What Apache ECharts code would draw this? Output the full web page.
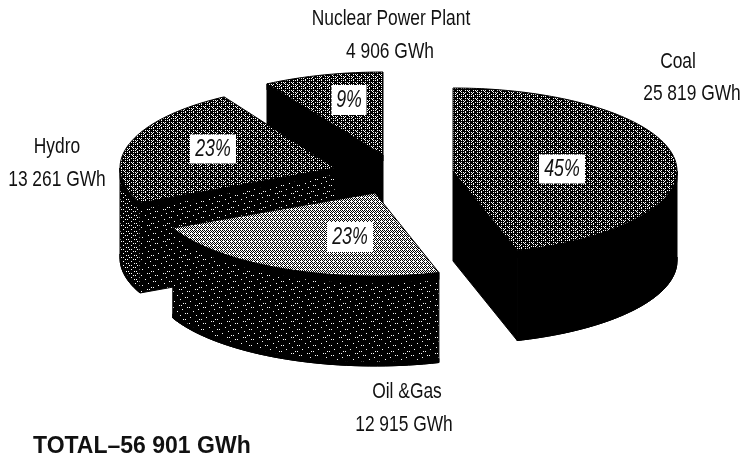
<!DOCTYPE html>
<html>
<head>
    <meta charset="UTF-8">
    <title>Electricity generation by source</title>
    <style type="text/css">
        html, body { margin: 0; padding: 0; background: #fff; }
        #mychart { width: 747px; height: 462px; }
    </style>
    <script type="text/javascript" src="https://cdn.jsdelivr.net/npm/echarts@6/dist/echarts.min.js"></script>
</head>
<body>
<div id="mychart"></div>
<script type="text/javascript">
    // values
    var names = ['Coal', 'Oil &Gas', 'Hydro', 'Nuclear Power Plant'];
    var gwh = [25819, 12915, 13261, 4906];
    var gwhLabels = ['25 819 GWh', '12 915 GWh', '13 261 GWh', '4 906 GWh'];
    var percentLabels = ['45%', '23%', '23%', '9%'];
    var totalLabel = 'TOTAL\u201356 901 GWh';

    // back to front
    var drawOrder = [3, 0, 2, 1];

    // each exploded slice sits on its own ellipse: cx, cy, rx, ry
    var ellipses = [[453, 171, 224, 83], [375, 193, 223, 83], [335, 168, 215, 83], [383, 155, 225, 83]];
    var depth = 90;
    var namePos = [[678, 62], [407, 392], [57, 147], [391, 19]];
    var gwhPos = [[692, 94], [404, 425], [57, 180], [390, 52]];
    var percentPos = [[562, 169], [350, 237], [213, 149], [349, 100]];
    var percentBox = [[46, 29], [46, 30], [46, 29], [35, 30]];

    // halftone tiles, # is black
    function tile(rows) {
        var c = document.createElement('canvas');
        c.width = rows[0].length;
        c.height = rows.length;
        var ctx = c.getContext('2d');
        ctx.fillStyle = '#fff';
        ctx.fillRect(0, 0, c.width, c.height);
        ctx.fillStyle = '#000';
        rows.forEach(function (row, y) {
            row.split('').forEach(function (ch, x) {
                if (ch === '#') ctx.fillRect(x, y, 1, 1);
            });
        });
        return {image: c, repeat: 'repeat'};
    }
    var darkTop = tile([
        '#.###.#.',
        '########',
        '#.#.#.##',
        '####.###',
        '#.###.#.',
        '.#######',
        '###.#.#.',
        '#.######'
    ]);
    var lightTop = tile([
        '#.#.#.#.',
        '.#...#..',
        '#.#.#.#.',
        '.#.#.#.#',
        '#.#.#.#.',
        '...#...#',
        '#.#.#.#.',
        '.#.#.#.#'
    ]);
    var dotted = tile([
        '################',
        '###.#.##########',
        '################',
        '###########.#.##',
        '################',
        '######.#########',
        '################',
        '#.##############',
        '################',
        '#########.#.####',
        '################',
        '####.###########',
        '################',
        '##############.#',
        '################',
        '#######.#.######'
    ]);
    var dottedDense = tile([
        '########',
        '#.#.####',
        '########',
        '#####.#.',
        '########',
        '###.####',
        '########',
        '.#####.#'
    ]);
    var topFills = [darkTop, lightTop, darkTop, darkTop];
    var radialFills = ['#000', dotted, dotted, '#000'];
    var wallFills = ['#000', dotted, dottedDense, '#000'];

    var total = gwh.reduce(function (a, b) { return a + b; }, 0);

    function startAngle(i) {
        var sum = 0;
        for (var k = 0; k < i; k++) sum += gwh[k];
        return sum / total * 360;
    }

    function rim(e, deg, drop) {
        var r = deg * Math.PI / 180;
        return [e[0] + e[2] * Math.sin(r), e[1] - e[3] * Math.cos(r) + (drop || 0)];
    }

    function arc(e, from, to, drop) {
        var pts = [];
        for (var a = from; a < to; a += 2) pts.push(rim(e, a, drop));
        pts.push(rim(e, to, drop));
        return pts;
    }

    function narrowText(text, pos, size, italic) {
        // no narrow face is installed, so squeeze the regular one
        return {
            type: 'text',
            x: pos[0],
            y: pos[1],
            scaleX: italic ? 0.74 : 0.79,
            style: {text: text, x: 0, y: 0, align: 'center', verticalAlign: 'middle', fill: '#111',
                font: (italic ? 'italic ' : '') + size + 'px Liberation Sans, Arial, sans-serif'}
        };
    }

    function renderSlice(params, api) {
        var i = drawOrder[params.dataIndex];
        var e = ellipses[i];
        var a0 = startAngle(i);
        var a1 = a0 + api.value(0) / total * 360;
        var apex = [e[0], e[1]];
        var apexLow = [e[0], e[1] + depth];
        var children = [];

        function face(points, fill) {
            children.push({type: 'polygon', shape: {points: points}, style: {fill: fill, stroke: '#000', lineWidth: 1}});
        }

        // radial faces that turn towards the viewer
        if (Math.sin(a0 * Math.PI / 180) < -0.01) {
            face([apex, rim(e, a0), rim(e, a0, depth), apexLow], radialFills[i]);
            face([apex, rim(e, a0), rim(e, a0, 6), [e[0], e[1] + 6]], '#000');
        }
        if (Math.sin(a1 * Math.PI / 180) > 0.01) {
            face([apex, rim(e, a1), rim(e, a1, depth), apexLow], radialFills[i]);
        }
        // curved wall, front half only, with dark bands along both rims
        var w0 = Math.max(a0, 90), w1 = Math.min(a1, 270);
        if (w1 > w0) {
            face(arc(e, w0, w1, 0).concat(arc(e, w0, w1, depth).reverse()), wallFills[i]);
            face(arc(e, w0, w1, 0).concat(arc(e, w0, w1, 7).reverse()), '#000');
            face(arc(e, w0, w1, depth - 4).concat(arc(e, w0, w1, depth).reverse()), '#000');
        }
        // top
        face([apex].concat(arc(e, a0, a1, 0)), topFills[i]);

        // texts
        var box = percentBox[i];
        children.push({
            type: 'rect',
            shape: {x: percentPos[i][0] - box[0] / 2, y: percentPos[i][1] - box[1] / 2, width: box[0], height: box[1]},
            style: {fill: '#fff'}
        });
        children.push(narrowText(percentLabels[i], percentPos[i], 24, true));
        children.push(narrowText(names[i], namePos[i], 22, false));
        children.push(narrowText(gwhLabels[i], gwhPos[i], 22, false));
        return {type: 'group', children: children};
    }

    var myChart = echarts.init(document.getElementById('mychart'), null, {renderer: 'canvas'});
    myChart.setOption({
        animation: false,
        backgroundColor: '#fff',
        graphic: [{
            type: 'text',
            left: 33,
            top: 435,
            style: {text: totalLabel, fill: '#111', font: 'bold 23px Liberation Sans, Arial, sans-serif'}
        }],
        series: [{
            type: 'custom',
            coordinateSystem: 'none',
            silent: true,
            renderItem: renderSlice,
            data: drawOrder.map(function (i) { return [gwh[i]]; })
        }]
    });
</script>
</body>
</html>
